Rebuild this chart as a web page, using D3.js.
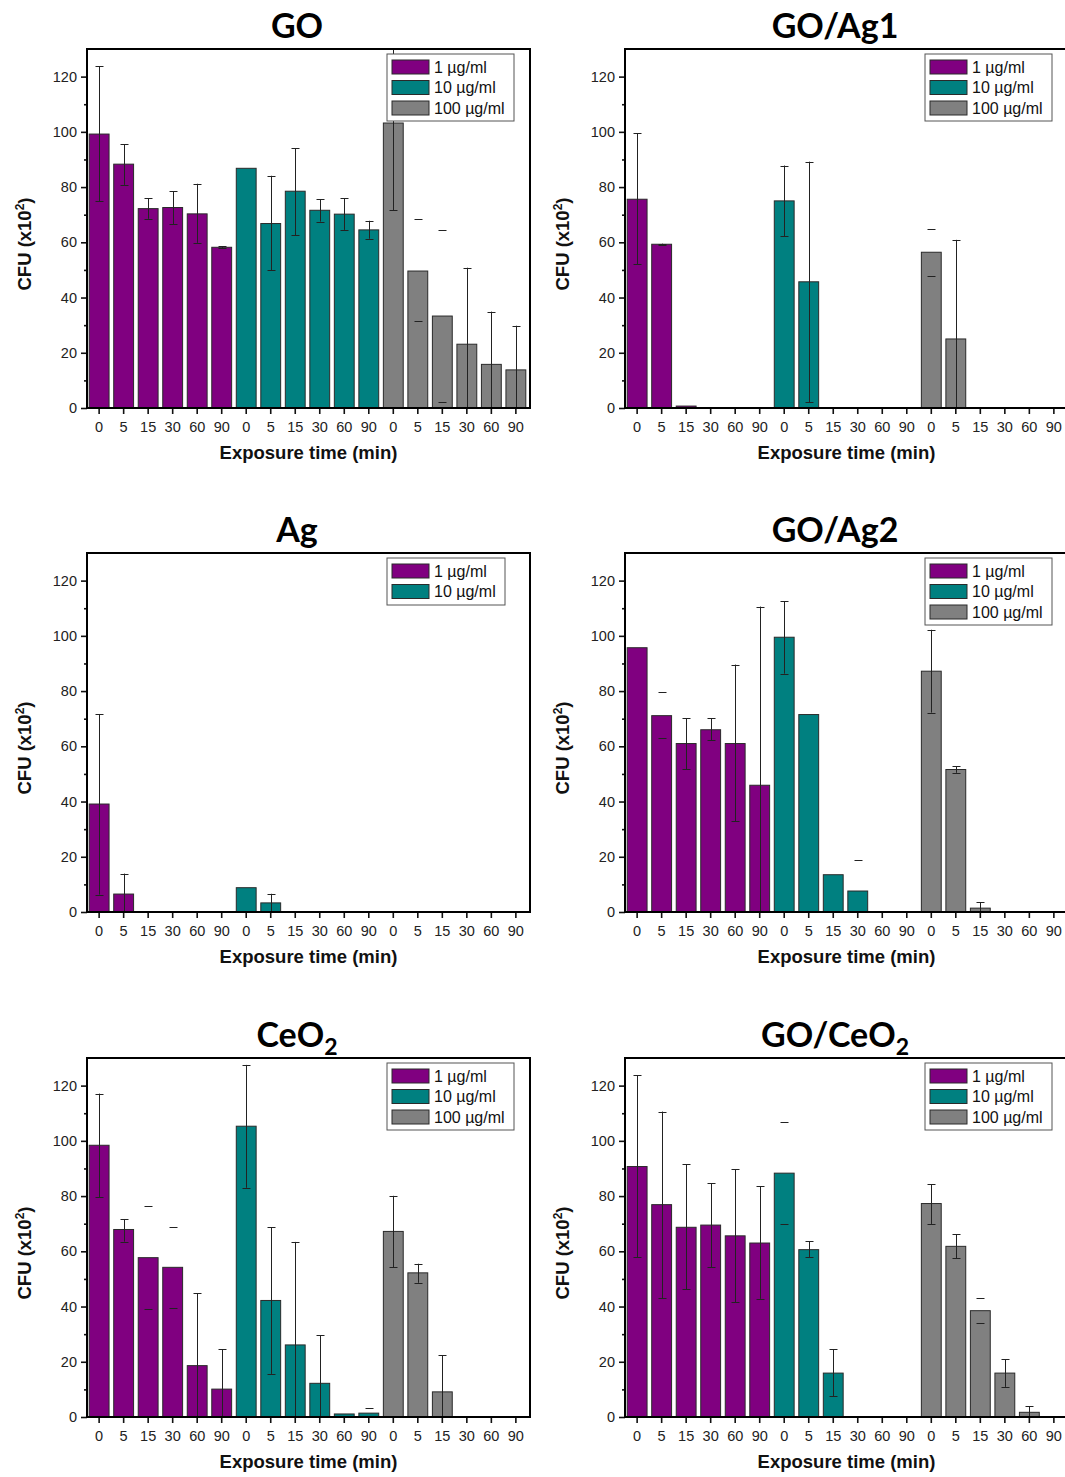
<!DOCTYPE html>
<html lang="en">
<meta charset="utf-8">
<title>CFU vs exposure time</title>
<style>
    body { margin: 0; background: white; }
    svg  { display: block; }
</style>
<body>
<svg id="canvas"></svg>
<script src="https://d3js.org/d3.v7.min.js"></script>
<script>

    ////////////////////// Data ///////////////////////
    var times    = ["0", "5", "15", "30", "60", "90"];
    var concs    = ["1 \u00b5g/ml", "10 \u00b5g/ml", "100 \u00b5g/ml"];
    var y_ticks  = [0, 20, 40, 60, 80, 100, 120];
    var y_minor  = [10, 30, 50, 70, 90, 110];

    // GO
    var go_mean  = [99.2, 88.3, 72.2, 72.6, 70.3, 58.2,  86.8, 66.8, 78.5, 71.6, 70.2, 64.5,  103.2, 49.6, 33.3, 23.1, 15.8, 13.8];
    var go_lo    = [74.8, 80.8, 68.5, 66.6, 59.8, 58.0,  null, 49.8, 62.6, 67.5, 64.5, 61.3,  71.7, 31.4, 2.1, -4.6, -3.0, -2.0];
    var go_hi    = [123.7, 95.5, 76.0, 78.5, 81.2, 58.5, null, 84.1, 94.1, 75.6, 76.0, 67.8,  134.7, 68.4, 64.6, 50.8, 34.9, 29.8];
    var go_caps  = [13, 14];

    // GO/Ag1
    var ag1_mean = [75.6, 59.3, 0.7, 0, 0, 0,  75.0, 45.7, 0, 0, 0, 0,  56.4, 25.0, 0, 0, 0, 0];
    var ag1_lo   = [52.1, 59.0, null, null, null, null,  62.2, 2.1, null, null, null, null,  47.8, -10.9, null, null, null, null];
    var ag1_hi   = [99.5, 59.5, null, null, null, null,  87.8, 89.2, null, null, null, null,  64.9, 60.9, null, null, null, null];
    var ag1_caps = [12];

    // Ag
    var ag_mean  = [39.1, 6.5, 0, 0, 0, 0,  8.8, 3.3, 0, 0, 0, 0,  0, 0, 0, 0, 0, 0];
    var ag_lo    = [6.3, -1.0, null, null, null, null,  null, 0, null, null, null, null,  null, null, null, null, null, null];
    var ag_hi    = [71.7, 13.9, null, null, null, null,  null, 6.6, null, null, null, null,  null, null, null, null, null, null];
    var ag_caps  = [];

    // GO/Ag2
    var ag2_mean = [95.7, 71.1, 61.0, 66.0, 61.0, 45.9,  99.5, 71.5, 13.5, 7.6, 0, 0,  87.2, 51.6, 1.4, 0, 0, 0];
    var ag2_lo   = [null, 62.9, 51.8, 62.2, 32.8, -18.8,  86.3, null, null, -3.5, null, null,  72.2, 50.4, -0.8, null, null, null];
    var ag2_hi   = [null, 79.8, 70.1, 70.1, 89.6, 110.6,  112.5, null, null, 18.7, null, null,  102.2, 52.8, 3.6, null, null, null];
    var ag2_caps = [1, 9];

    // CeO2
    var ce_mean  = [98.4, 67.9, 57.7, 54.2, 18.6, 10.1,  105.3, 42.2, 26.1, 12.2, 1.1, 1.4,  67.2, 52.2, 9.1, 0, 0, 0];
    var ce_lo    = [79.5, 63.5, 39.1, 39.6, -7.7, -4.4,  83.0, 15.6, -11.2, -5.2, null, -0.6,  54.3, 48.6, -4.1, null, null, null];
    var ce_hi    = [117.1, 71.7, 76.3, 68.8, 44.9, 24.6,  127.5, 68.8, 63.4, 29.6, null, 3.4,  80.1, 55.5, 22.3, null, null, null];
    var ce_caps  = [2, 3, 11];

    // GO/CeO2
    var gce_mean = [90.7, 76.9, 68.7, 69.5, 65.6, 63.0,  88.3, 60.6, 15.9, 0, 0, 0,  77.3, 61.8, 38.5, 15.9, 1.7, 0];
    var gce_lo   = [57.9, 43.0, 46.3, 54.2, 41.6, 42.8,  69.9, 57.9, 7.5, null, null, null,  69.9, 57.5, 34.1, 10.9, -0.5, null];
    var gce_hi   = [123.7, 110.6, 91.5, 84.7, 89.7, 83.6,  106.8, 63.7, 24.5, null, null, null,  84.3, 66.2, 43.1, 21.0, 3.9, null];
    var gce_caps = [6, 14];
    ///////////////////////////////////////////////////

    ////////////////// Panel setup ////////////////////
    var panels = [
        { title: "GO",     sub: "",  mean: go_mean,  lo: go_lo,  hi: go_hi,  caps: go_caps,  n_conc: 3, col: 0, row: 0 },
        { title: "GO/Ag1", sub: "",  mean: ag1_mean, lo: ag1_lo, hi: ag1_hi, caps: ag1_caps, n_conc: 3, col: 1, row: 0 },
        { title: "Ag",     sub: "",  mean: ag_mean,  lo: ag_lo,  hi: ag_hi,  caps: ag_caps,  n_conc: 2, col: 0, row: 1 },
        { title: "GO/Ag2", sub: "",  mean: ag2_mean, lo: ag2_lo, hi: ag2_hi, caps: ag2_caps, n_conc: 3, col: 1, row: 1 },
        { title: "CeO",    sub: "2", mean: ce_mean,  lo: ce_lo,  hi: ce_hi,  caps: ce_caps,  n_conc: 3, col: 0, row: 2 },
        { title: "GO/CeO", sub: "2", mean: gce_mean, lo: gce_lo, hi: gce_hi, caps: gce_caps, n_conc: 3, col: 1, row: 2 }
    ];
    ///////////////////////////////////////////////////

    ///////// Position and Dimension Variables ////////
    var dimensions  = [1065, 1477];
    var col_x0      = [87, 625];
    var row_bottom  = [408, 912, 1417];
    var plot_w      = 443;
    var band_w      = 441;
    var plot_h      = 359;
    var cap_w       = 8;
    ///////////////////////////////////////////////////

    ///////////////// Style Variables /////////////////
    var colors      = ["#800080", "#008080", "#808080"];
    var bar_line    = "#2a2a2a";
    var err_color   = "#222";
    var label_font  = "'Liberation Sans', Arial, sans-serif";
    var title_font  = "Lato, 'Open Sans', sans-serif";
    ///////////////////////////////////////////////////

    var canvas = d3.select("#canvas")
        .attr("width",  dimensions[0])
        .attr("height", dimensions[1])
        .style("background-color", "white");

    panels.forEach(function (p, pi) {
        var x0     = col_x0[p.col];
        var bottom = row_bottom[p.row];
        var top    = bottom - plot_h;

        var x = d3.scaleBand()
            .domain(d3.range(18))
            .range([x0, x0 + band_w])
            .paddingInner(0.19)
            .paddingOuter(0.09);
        var y = d3.scaleLinear()
            .domain([0, 130])
            .range([bottom, top]);

        var g = canvas.append("g");

        // clip to plot area
        var clip_id = "clip" + pi;
        g.append("clipPath").attr("id", clip_id)
            .append("rect")
            .attr("x", x0).attr("y", top)
            .attr("width", plot_w).attr("height", plot_h);

        var plot = g.append("g").attr("clip-path", "url(#" + clip_id + ")");

        var idx = d3.range(18);

        // bars
        plot.selectAll("rect.bar")
            .data(idx.filter(function (i) { return p.mean[i] > 0; }))
            .enter().append("rect")
            .attr("class", "bar")
            .attr("x", function (i) { return x(i); })
            .attr("width", x.bandwidth())
            .attr("y", function (i) { return y(p.mean[i]); })
            .attr("height", function (i) { return y(0) - y(p.mean[i]); })
            .attr("fill", function (i) { return colors[Math.floor(i / 6)]; })
            .attr("stroke", bar_line)
            .attr("stroke-width", 1);

        // error bars
        var eb = idx.filter(function (i) { return p.lo[i] !== null && p.hi[i] !== null; });
        var cx = function (i) { return Math.round(x(i) + x.bandwidth() / 2) + 0.5; };

        plot.selectAll("line.stem")
            .data(eb.filter(function (i) { return p.caps.indexOf(i) < 0; }))
            .enter().append("line")
            .attr("class", "stem")
            .attr("x1", cx).attr("x2", cx)
            .attr("y1", function (i) { return y(p.lo[i]); })
            .attr("y2", function (i) { return y(p.hi[i]); })
            .attr("stroke", err_color)
            .attr("stroke-width", 1);

        var caps = [];
        eb.forEach(function (i) { caps.push([i, p.lo[i]]); caps.push([i, p.hi[i]]); });
        plot.selectAll("line.cap")
            .data(caps)
            .enter().append("line")
            .attr("class", "cap")
            .attr("x1", function (d) { return cx(d[0]) - cap_w / 2; })
            .attr("x2", function (d) { return cx(d[0]) + cap_w / 2; })
            .attr("y1", function (d) { return Math.round(y(d[1])) + 0.5; })
            .attr("y2", function (d) { return Math.round(y(d[1])) + 0.5; })
            .attr("stroke", err_color)
            .attr("stroke-width", 1);

        // axes
        var x_axis = g.append("g")
            .attr("transform", "translate(0," + bottom + ")")
            .call(d3.axisBottom(x)
                .tickSize(6)
                .tickSizeOuter(0)
                .tickPadding(8)
                .tickFormat(function (i) { return times[i % 6]; }));
        var y_axis = g.append("g")
            .attr("transform", "translate(" + x0 + ",0)")
            .call(d3.axisLeft(y)
                .tickValues(y_ticks)
                .tickSize(6)
                .tickSizeOuter(0)
                .tickPadding(4));
        var y_axis_minor = g.append("g")
            .attr("transform", "translate(" + x0 + ",0)")
            .call(d3.axisLeft(y)
                .tickValues(y_minor)
                .tickSize(3)
                .tickSizeOuter(0)
                .tickFormat(""));
        [x_axis, y_axis, y_axis_minor].forEach(function (a) {
            a.select(".domain").remove();
            a.selectAll(".tick line").attr("stroke", "#111").attr("stroke-width", 1.6);
            a.selectAll(".tick text")
                .attr("fill", "#222")
                .style("font-family", label_font)
                .style("font-size", "14.5px");
        });

        // frame
        g.append("rect")
            .attr("x", x0).attr("y", top)
            .attr("width", plot_w).attr("height", plot_h)
            .attr("fill", "none")
            .attr("stroke", "#000")
            .attr("stroke-width", 2);

        // legend
        var lg_w = p.n_conc === 3 ? 127 : 118;
        var lg_h = p.n_conc === 3 ? 67 : 47;
        var lg = g.append("g")
            .attr("transform", "translate(" + (x0 + 300) + "," + (top + 5) + ")");
        lg.append("rect")
            .attr("width", lg_w).attr("height", lg_h)
            .attr("fill", "white")
            .attr("stroke", "#555")
            .attr("stroke-width", 1);
        var rows = lg.selectAll("g.row")
            .data(concs.slice(0, p.n_conc))
            .enter().append("g")
            .attr("class", "row")
            .attr("transform", function (d, i) { return "translate(5," + (6 + i * 20.5) + ")"; });
        rows.append("rect")
            .attr("width", 37).attr("height", 14)
            .attr("fill", function (d, i) { return colors[i]; })
            .attr("stroke", bar_line)
            .attr("stroke-width", 1);
        rows.append("text")
            .attr("x", 42).attr("y", 12.5)
            .style("font-family", label_font)
            .style("font-size", "16px")
            .attr("fill", "#111")
            .text(function (d) { return d; });

        // title
        var title = g.append("text")
            .attr("x", x0 + 210)
            .attr("y", top - 11)
            .attr("text-anchor", "middle")
            .style("font-family", title_font)
            .style("font-weight", "bold")
            .style("font-size", "34px")
            .attr("fill", "#000")
            .text(p.title);
        if (p.sub) {
            title.append("tspan")
                .attr("dy", 8)
                .style("font-size", "23px")
                .text(p.sub);
        }

        // y label
        var yl = g.append("text")
            .attr("transform", "translate(" + (x0 - 56) + "," + (bottom - 164) + ") rotate(-90)")
            .attr("text-anchor", "middle")
            .style("font-family", label_font)
            .style("font-weight", "bold")
            .style("font-size", "18.5px")
            .attr("fill", "#111")
            .text("CFU  (x10");
        yl.append("tspan")
            .attr("dy", -7)
            .style("font-size", "12px")
            .text("2");
        yl.append("tspan")
            .attr("dy", 7)
            .text(")");

        // x label
        g.append("text")
            .attr("x", x0 + 221.5)
            .attr("y", bottom + 51)
            .attr("text-anchor", "middle")
            .style("font-family", label_font)
            .style("font-weight", "bold")
            .style("font-size", "18.5px")
            .attr("fill", "#111")
            .text("Exposure time (min)");
    });

</script>
</body>
</html>
